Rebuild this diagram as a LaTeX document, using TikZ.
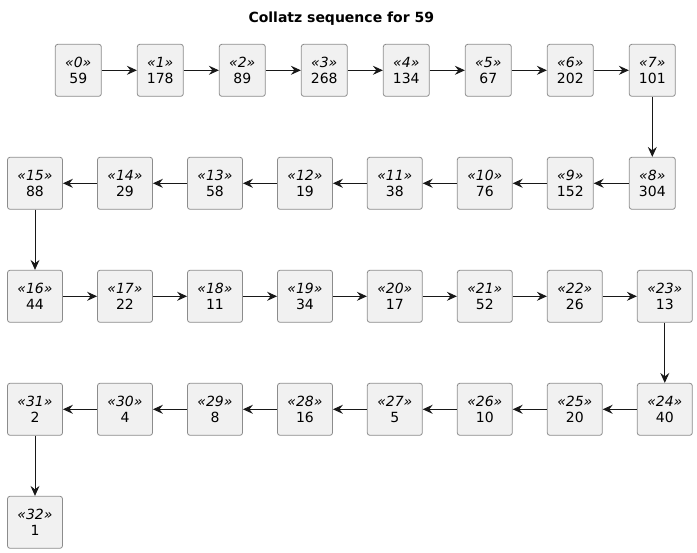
\documentclass[tikz,border=0pt]{standalone}
\usepackage{fontspec}
\setmainfont{DejaVu Sans}
\usetikzlibrary{arrows.meta}
\definecolor{boxfill}{HTML}{F1F1F1}
\definecolor{boxline}{HTML}{8C8C8C}
\definecolor{ink}{HTML}{181818}
\newcommand\collnode[5]{\node[stepbox,#2] (n#1) at (#3,#4) {{\itshape «#1»}\\#5};}
\begin{document}
\begin{tikzpicture}[x=1pt,y=-1pt,
  stepbox/.style={draw=boxline, line width=0.8pt, fill=boxfill, rounded corners=2.5pt,
    minimum height=52pt, inner sep=0pt, align=center,
    font=\fontsize{14}{16.5}\selectfont},
  narrow/.style={minimum width=46pt},
  wide/.style={minimum width=55pt},
  link/.style={draw=ink, line width=1pt, -{Stealth[length=10pt,width=9pt,inset=3.5pt]}},
  titlestyle/.style={font=\fontsize{14}{17}\selectfont\bfseries, inner sep=0pt}]
\useasboundingbox (0,0) rectangle (697,553);
\node[titlestyle] (title) at (341.3,18.5) {Collatz sequence for 59};
% row 1
\collnode{0}{narrow}{78.3}{70.3}{59}
\collnode{1}{narrow}{160.3}{70.3}{178}
\collnode{2}{narrow}{242.3}{70.3}{89}
\collnode{3}{narrow}{324.3}{70.3}{268}
\collnode{4}{narrow}{406.3}{70.3}{134}
\collnode{5}{narrow}{488.3}{70.3}{67}
\collnode{6}{narrow}{570.3}{70.3}{202}
\collnode{7}{narrow}{652.3}{70.3}{101}
% row 2
\collnode{8}{narrow}{652.3}{183.3}{304}
\collnode{9}{narrow}{570.3}{183.3}{152}
\collnode{10}{wide}{484.8}{183.3}{76}
\collnode{11}{wide}{394.8}{183.3}{38}
\collnode{12}{wide}{305}{183.3}{19}
\collnode{13}{wide}{215}{183.3}{58}
\collnode{14}{wide}{125}{183.3}{29}
\collnode{15}{wide}{35}{183.3}{88}
% row 3
\collnode{16}{wide}{35}{296.3}{44}
\collnode{17}{wide}{125}{296.3}{22}
\collnode{18}{wide}{215}{296.3}{11}
\collnode{19}{wide}{305}{296.3}{34}
\collnode{20}{wide}{394.8}{296.3}{17}
\collnode{21}{wide}{484.8}{296.3}{52}
\collnode{22}{wide}{574.8}{296.3}{26}
\collnode{23}{wide}{664.8}{296.3}{13}
% row 4
\collnode{24}{wide}{664.8}{409.3}{40}
\collnode{25}{wide}{574.8}{409.3}{20}
\collnode{26}{wide}{484.8}{409.3}{10}
\collnode{27}{wide}{394.8}{409.3}{5}
\collnode{28}{wide}{305}{409.3}{16}
\collnode{29}{wide}{215}{409.3}{8}
\collnode{30}{wide}{125}{409.3}{4}
\collnode{31}{wide}{35}{409.3}{2}
% row 5
\collnode{32}{wide}{35}{522.3}{1}
\foreach \a [evaluate=\a as \b using int(\a+1)] in {0,...,31}{
  \draw[link] (n\a) -- (n\b);
}
\end{tikzpicture}
\end{document}
